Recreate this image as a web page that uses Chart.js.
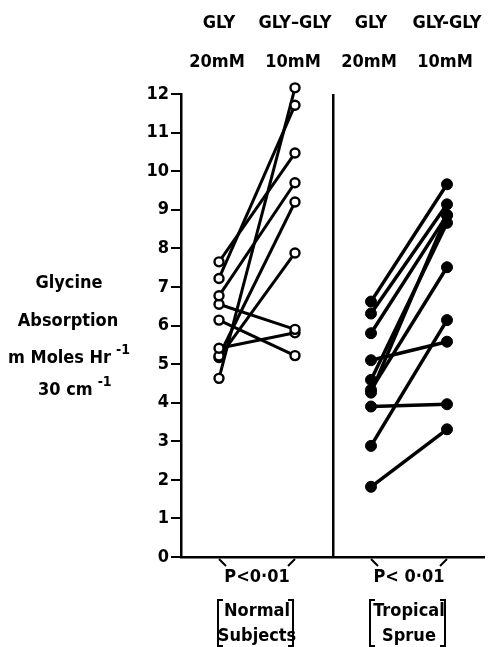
<!DOCTYPE html>
<html>
<head>
<meta charset="utf-8">
<script src="https://cdn.jsdelivr.net/npm/chart.js@4"></script>
<style>
  html, body { margin: 0; padding: 0; background: #fff; }
  #wrap { width: 497px; height: 647px; }
</style>
</head>
<body>
<div id="wrap"><canvas id="miGrafico" width="497" height="647"></canvas></div>
<script>
const ctx = document.getElementById('miGrafico');

const FONT = "'Liberation Sans Narrow', 'DejaVu Sans Condensed', 'Liberation Sans', sans-serif";

// Normal subjects: absorption with GLY 20mM and GLY-GLY 10mM (paired)
const normalGly = [7.65, 7.22, 6.77, 6.55, 6.14, 5.41, 5.21, 5.17, 4.63];
const normalGlyGly = [10.47, 11.71, 9.70, 5.90, 5.22, 5.81, 9.20, 7.88, 12.16];

// Tropical sprue
const sprueGly = [6.62, 6.31, 5.80, 5.10, 4.59, 4.33, 4.26, 3.90, 2.88, 1.82];
const sprueGlyGly = [9.66, 9.14, 8.86, 5.58, 8.66, 7.51, 8.86, 3.96, 6.14, 3.31];

const columnLabels = ['GLY', 'GLY\u2013GLY', 'GLY', 'GLY-GLY'];
const doseLabels = ['20mM', '10mM', '20mM', '10mM'];
const columnX = [1, 3, 5, 7];
const yTicks = [0, 1, 2, 3, 4, 5, 6, 7, 8, 9, 10, 11, 12];
const pLabels = ['P<0\u00b701', 'P< 0\u00b701'];
const groupLabels = [['Normal', 'Subjects'], ['Tropical', 'Sprue']];

const datasets = [];
normalGly.forEach((v, i) => {
  datasets.push({
    data: [{ x: columnX[0], y: v }, { x: columnX[1], y: normalGlyGly[i] }],
    showLine: true,
    clip: false,
    borderColor: '#000',
    borderWidth: 3,
    pointRadius: 4.5,
    pointBorderWidth: 2.4,
    pointBackgroundColor: '#fff',
    pointBorderColor: '#000',
  });
});
sprueGly.forEach((v, i) => {
  datasets.push({
    data: [{ x: columnX[2], y: v }, { x: columnX[3], y: sprueGlyGly[i] }],
    showLine: true,
    clip: false,
    borderColor: '#000',
    borderWidth: 3.5,
    pointRadius: 5.5,
    pointBorderWidth: 1,
    pointBackgroundColor: '#000',
    pointBorderColor: '#000',
  });
});

const labelsPlugin = {
  id: 'labels',
  afterDraw(chart) {
    const c = chart.ctx;
    const xs = chart.scales.x;
    const area = chart.chartArea;
    c.save();
    c.fillStyle = '#000';
    c.strokeStyle = '#000';
    c.textAlign = 'center';
    c.textBaseline = 'middle';

    // column headers
    c.font = 'bold 18px ' + FONT;
    columnLabels.forEach((t, i) => c.fillText(t, xs.getPixelForValue(columnX[i]), 23));
    doseLabels.forEach((t, i) => c.fillText(t, xs.getPixelForValue(columnX[i]) - 2, 62));

    // y axis title
    c.fillText('Glycine', 69, 283);
    c.fillText('Absorption', 68, 321);
    c.textAlign = 'left';
    const w1 = c.measureText('m Moles Hr').width;
    c.fillText('m Moles Hr', 8, 358);
    c.fillText('30 cm', 38, 390);
    const w2 = c.measureText('30 cm').width;
    c.font = 'bold 14px ' + FONT;
    c.fillText('-1', 8 + w1 + 5, 350);
    c.fillText('-1', 38 + w2 + 5, 382);

    // bottom notes
    c.textAlign = 'center';
    c.font = 'bold 18px ' + FONT;
    c.lineWidth = 2;
    [0, 1].forEach(g => {
      const x1 = xs.getPixelForValue(columnX[g * 2]);
      const x2 = xs.getPixelForValue(columnX[g * 2 + 1]);
      const mid = (x1 + x2) / 2;
      c.fillText(pLabels[g], mid, 577);
      c.beginPath();
      c.moveTo(x1, area.bottom + 2); c.lineTo(x1 + 7, area.bottom + 9);
      c.moveTo(x2, area.bottom + 2); c.lineTo(x2 - 7, area.bottom + 9);
      c.stroke();
      c.fillText(groupLabels[g][0], mid, 611);
      c.fillText(groupLabels[g][1], mid, 636);
      // brackets
      const bl = x1 - 1, br = x2 - 2;
      c.beginPath();
      c.moveTo(bl + 5, 600); c.lineTo(bl, 600); c.lineTo(bl, 646); c.lineTo(bl + 5, 646);
      c.moveTo(br - 5, 600); c.lineTo(br, 600); c.lineTo(br, 646); c.lineTo(br - 5, 646);
      c.stroke();
    });
    c.restore();
  }
};

const options = {
  responsive: false,
  animation: false,
  layout: { padding: { top: 94, right: 12, bottom: 90, left: 0 } },
  plugins: {
    legend: { display: false },
    tooltip: { enabled: false },
  },
  scales: {
    x: {
      type: 'linear',
      min: 0,
      max: 8,
      ticks: { display: false, stepSize: 1 },
      grid: {
        drawTicks: false,
        color: c => (c.tick && c.tick.value === 4 ? '#000' : 'rgba(0,0,0,0)'),
        lineWidth: c => (c.tick && c.tick.value === 4 ? 2.5 : 0),
      },
      border: { display: true, color: '#000', width: 2.5 },
      afterFit: s => { s.height = 0; },
    },
    y: {
      min: 0,
      max: 12,
      afterBuildTicks: s => { s.ticks = yTicks.map(v => ({ value: v })); },
      ticks: {
        color: '#000',
        font: { family: FONT, size: 18, weight: 'bold' },
        padding: 2,
      },
      grid: {
        drawOnChartArea: false,
        color: '#000',
        lineWidth: 2,
        tickLength: 10,
      },
      border: { display: true, color: '#000', width: 2.5 },
      afterFit: s => { s.width = 181; },
    },
  },
};

const myChart = new Chart(ctx, {
  type: 'scatter',
  data: { datasets },
  options,
  plugins: [labelsPlugin],
});
</script>
</body>
</html>
